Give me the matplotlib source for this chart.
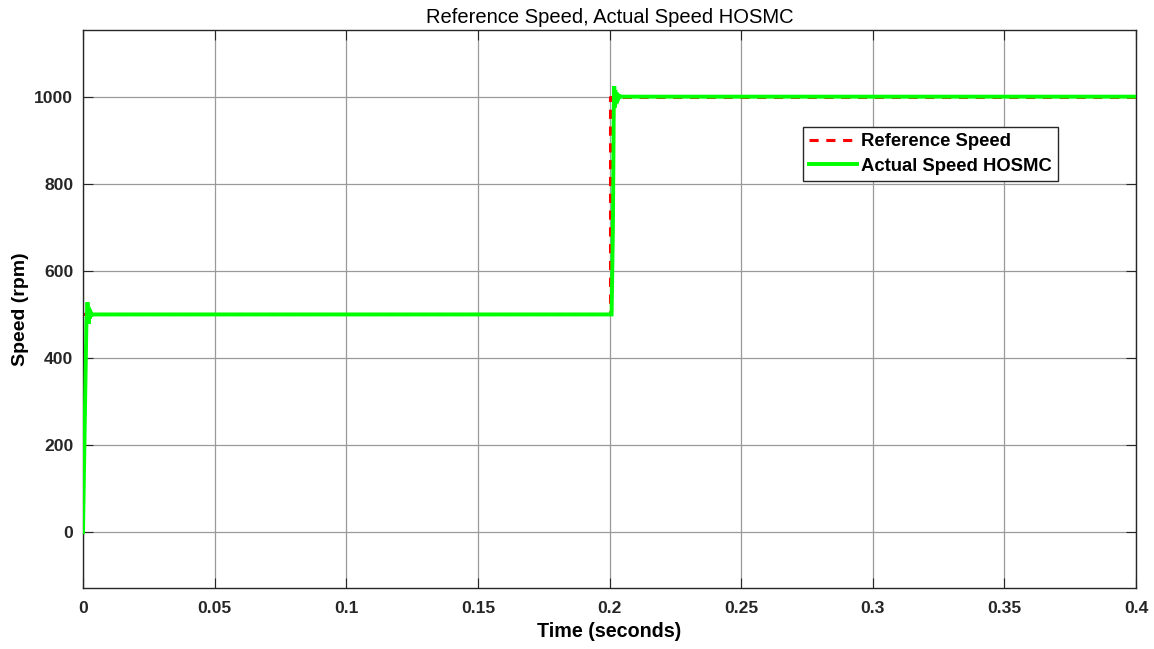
import matplotlib
matplotlib.use("Agg")
import matplotlib.pyplot as plt
import numpy as np

# Reference speed command (rpm): 500 rpm, stepping to 1000 rpm at t = 0.2 s
ref_time = [0.0, 0.2, 0.2, 0.4]
ref_speed = [500, 500, 1000, 1000]

# Measured speed under HOSMC (rpm): start-up transient, step response, settled values
act_time = [0.0, 0.0008, 0.0013, 0.0017, 0.0019, 0.0021, 0.0023, 0.0025, 0.0027,
            0.0029, 0.0031, 0.0034, 0.0040, 0.2000, 0.2008, 0.2013, 0.2016,
            0.2018, 0.2020, 0.2022, 0.2024, 0.2026, 0.2028, 0.2031, 0.2034,
            0.2038, 0.2045, 0.4000]
act_speed = [0, 300, 480, 528, 510, 478, 512, 490, 506, 495, 503, 499, 500, 500,
             500, 700, 960, 1024, 975, 1015, 985, 1010, 992, 1005, 996, 1002,
             1000, 1000]

xticks = [0, 0.05, 0.1, 0.15, 0.2, 0.25, 0.3, 0.35, 0.4]
xtick_labels = ["0", "0.05", "0.1", "0.15", "0.2", "0.25", "0.3", "0.35", "0.4"]
yticks = [0, 200, 400, 600, 800, 1000]

plt.rcParams["font.family"] = ["Liberation Sans", "DejaVu Sans"]

fig = plt.figure(figsize=(11.54, 6.49), dpi=100)
ax = fig.add_axes([83 / 1154, 1 - 588 / 649, 1053 / 1154, 558 / 649])

ax.plot(act_time, act_speed, color="#00ff00", lw=2.8, solid_joinstyle="miter",
        label="Actual Speed HOSMC", zorder=3)
ax.plot(ref_time, ref_speed, color="#ff0000", lw=2.2, ls=(0, (3, 2.5)),
        label="Reference Speed", zorder=2)

ax.set_xlim(0, 0.4)
ax.set_ylim(-128, 1153)
ax.set_xticks(xticks)
ax.set_xticklabels(xtick_labels)
ax.set_yticks(yticks)

ax.grid(True, color="#9a9a9a", lw=0.9)
ax.set_axisbelow(True)

for sp in ax.spines.values():
    sp.set_color("#262626")
    sp.set_linewidth(1.0)

ax.tick_params(direction="in", length=7.5, width=0.8, color="#262626",
               top=True, right=True, labelsize=12.6, labelcolor="#262626")
ax.tick_params(axis="x", pad=9.5)
ax.tick_params(axis="y", pad=7)
for lbl in ax.get_xticklabels() + ax.get_yticklabels():
    lbl.set_fontweight("bold")

ax.set_xlabel("Time (seconds)", fontsize=14.2, fontweight="bold", labelpad=4)
ax.set_ylabel("Speed (rpm)", fontsize=14, fontweight="bold", labelpad=4)
ax.set_title("Reference Speed, Actual Speed HOSMC", fontsize=14.5, pad=5)

handles, labels = ax.get_legend_handles_labels()
leg = ax.legend(handles[::-1], labels[::-1], loc="upper left",
                bbox_to_anchor=(0.684, 0.826), frameon=True, fancybox=False,
                framealpha=1, edgecolor="#262626", borderpad=0.33,
                labelspacing=0.42, handlelength=2.6, handletextpad=0.22,
                borderaxespad=0, prop={"weight": "bold", "size": 13.3})
leg.get_frame().set_linewidth(1.0)

fig.savefig("out.png", dpi=100, facecolor="white")
